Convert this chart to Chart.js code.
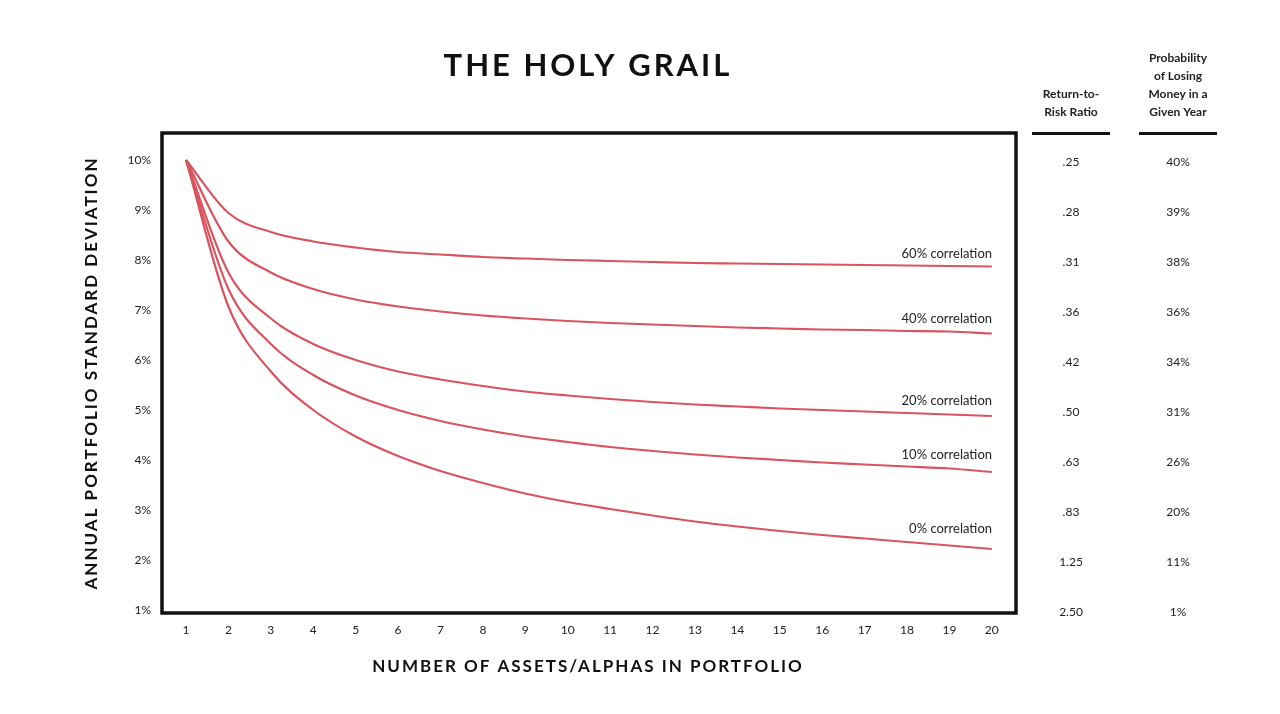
<!DOCTYPE html>
<html><head><meta charset="utf-8">
<script src="https://cdn.jsdelivr.net/npm/chart.js@4"></script>
<style>html,body{margin:0;background:#fff}#c{display:block}</style>
</head><body>
<canvas id="c" width="1280" height="714"></canvas>
<script>
const assets = [1,2,3,4,5,6,7,8,9,10,11,12,13,14,15,16,17,18,19,20];
const corr60 = [10,8.94,8.56,8.37,8.25,8.16,8.11,8.06,8.03,8.00,7.98,7.96,7.94,7.93,7.92,7.91,7.90,7.89,7.88,7.87];
const corr40 = [10,8.37,7.75,7.42,7.21,7.07,6.97,6.89,6.83,6.78,6.74,6.71,6.68,6.65,6.63,6.61,6.60,6.58,6.57,6.53];
const corr20 = [10,7.75,6.83,6.32,6.00,5.77,5.61,5.48,5.37,5.29,5.22,5.16,5.11,5.07,5.03,5.00,4.97,4.94,4.91,4.88];
const corr10 = [10,7.42,6.32,5.70,5.29,5.00,4.78,4.61,4.47,4.36,4.26,4.18,4.11,4.05,4.00,3.95,3.91,3.87,3.83,3.76];
const corr0  = [10,7.07,5.77,5.00,4.47,4.08,3.78,3.54,3.33,3.16,3.02,2.89,2.77,2.67,2.58,2.50,2.43,2.36,2.29,2.22];
const seriesLabels = ['60% correlation','40% correlation','20% correlation','10% correlation','0% correlation'];
const yTicks = [10,9,8,7,6,5,4,3,2,1];
const ratioCol = ['.25','.28','.31','.36','.42','.50','.63','.83','1.25','2.50'];
const probCol = ['40%','39%','38%','36%','34%','31%','26%','20%','11%','1%'];

const all=[corr60,corr40,corr20,corr10,corr0];
const red='#d9545e';
const F='"Lato","DejaVu Sans",sans-serif';
const deco={id:'deco',afterDraw(ch){
 const c=ch.ctx,a=ch.chartArea,xs=ch.scales.x,ys=ch.scales.y;
 c.save();
 c.strokeStyle='#111';c.lineWidth=3.5;c.strokeRect(a.left,a.top,a.right-a.left,a.bottom-a.top);
 c.fillStyle='#222';
 c.font='12px '+F;c.textAlign='right';c.textBaseline='middle';
 yTicks.forEach(v=>c.fillText(v+'%',151,ys.getPixelForValue(v)));
 c.textAlign='center';
 assets.forEach(v=>c.fillText(String(v),xs.getPixelForValue(v),630));
 yTicks.forEach((v,i)=>{const y=ys.getPixelForValue(v)+2;c.fillText(ratioCol[i],1071,y);c.fillText(probCol[i],1178,y);});
 c.font='bold 12px '+F;c.textBaseline='alphabetic';
 c.fillText('Return-to-',1071,98);c.fillText('Risk Ratio',1071,116);
 ['Probability','of Losing','Money in a','Given Year'].forEach((t,i)=>c.fillText(t,1178,62+i*18));
 c.fillStyle='#111';c.fillRect(1032,132,78,3);c.fillRect(1139,132,78,3);
 c.font='13px '+F;c.textAlign='right';c.fillStyle='#222';
 const ly=[258,323,405,459,533];
 seriesLabels.forEach((t,i)=>c.fillText(t,992,ly[i]));
 c.textAlign='center';c.fillStyle='#111';
 c.letterSpacing='3px';c.font='bold 31px '+F;c.fillText('THE HOLY GRAIL',588,76);
 c.letterSpacing='2px';c.font='bold 17px '+F;c.fillText('NUMBER OF ASSETS/ALPHAS IN PORTFOLIO',588,672);
 c.translate(97,373);c.rotate(-Math.PI/2);c.fillText('ANNUAL PORTFOLIO STANDARD DEVIATION',0,0);
 c.restore();}};
new Chart(document.getElementById('c'),{type:'line',
 data:{datasets:all.map((d,i)=>({label:seriesLabels[i],data:d.map((v,j)=>({x:assets[j],y:v})),borderColor:red,borderWidth:2.2,pointRadius:0,tension:0.4,cubicInterpolationMode:'monotone',fill:false}))},
 options:{responsive:false,animation:false,
  layout:{padding:{left:162,right:264,top:133,bottom:101}},
  plugins:{legend:{display:false},tooltip:{enabled:false}},
  scales:{x:{type:'linear',display:false,min:0.434,max:20.57},y:{display:false,min:0.94,max:10.54}}},
 plugins:[deco]});
</script></body></html>
